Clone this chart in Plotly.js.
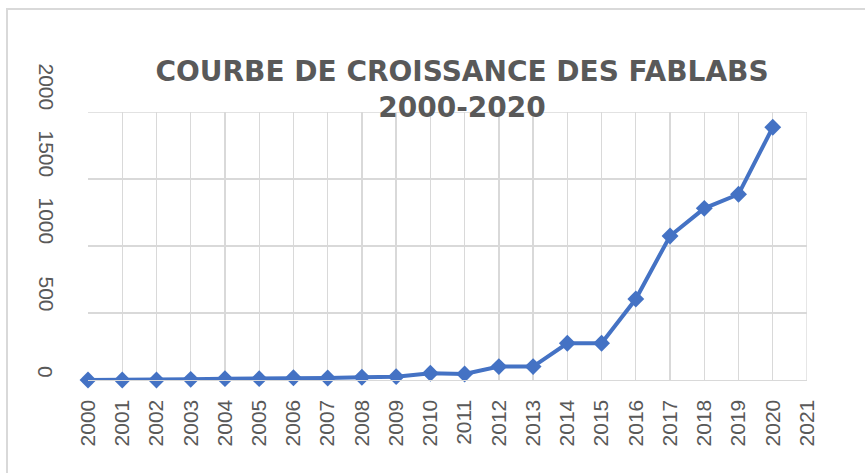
<!DOCTYPE html>
<html>
<head>
<meta charset="utf-8">
<script src="https://cdn.plot.ly/plotly-3.0.1.min.js"></script>
<style>
  html, body { margin: 0; padding: 0; background: #ffffff; overflow: hidden; }
  #frame { position: absolute; left: 6px; top: 8px; width: 900px; height: 500px; border: 2px solid #d9d9d9; box-sizing: border-box; }
  #chart { position: absolute; left: 0; top: 0; width: 865px; height: 473px; }
</style>
</head>
<body>
<div id="frame"></div>
<div id="chart"></div>
<script>
const years = [2000, 2001, 2002, 2003, 2004, 2005, 2006, 2007, 2008, 2009, 2010,
               2011, 2012, 2013, 2014, 2015, 2016, 2017, 2018, 2019, 2020];
const fablabs = [0, 0, 0, 5, 10, 10, 17, 15, 20, 25, 50,
                 45, 100, 100, 274, 274, 604, 1075, 1281, 1386, 1886];
const xTickVals = [2000, 2001, 2002, 2003, 2004, 2005, 2006, 2007, 2008, 2009, 2010,
                   2011, 2012, 2013, 2014, 2015, 2016, 2017, 2018, 2019, 2020, 2021];
const yTickVals = [0, 500, 1000, 1500, 2000];
const yTickText = ["0", "500", "1000", "1500", "2000"];
const titleText = "COURBE DE CROISSANCE DES FABLABS<br>2000-2020";

const labelFont = { family: "Liberation Sans, Arial, sans-serif", size: 21, color: "#595959" };

const trace = {
  x: years,
  y: fablabs,
  type: "scatter",
  mode: "lines+markers",
  line: { color: "#4472C4", width: 4 },
  marker: { symbol: "diamond", size: 13, color: "#4472C4" },
  cliponaxis: false,
  hoverinfo: "x+y"
};

const annotations = yTickVals.map((v, i) => ({
  xref: "paper", yref: "y",
  x: 0, y: v,
  xanchor: "center", yanchor: "bottom",
  xshift: -42, yshift: 0,
  text: yTickText[i],
  textangle: 90,
  showarrow: false,
  font: labelFont
}));

const layout = {
  width: 865, height: 473,
  paper_bgcolor: "rgba(0,0,0,0)",
  plot_bgcolor: "rgba(0,0,0,0)",
  margin: { l: 88, r: 58, t: 112, b: 93 },
  showlegend: false,
  title: {
    text: titleText,
    font: { family: "DejaVu Sans, sans-serif", size: 28, color: "#595959", weight: "bold" },
    x: 462 / 865, xanchor: "center",
    xref: "container",
    y: 1 - 81 / 473, yanchor: "top", yref: "container"
  },
  xaxis: {
    range: [2000, 2021],
    tickmode: "array",
    tickvals: xTickVals,
    ticktext: xTickVals.map(String),
    tickangle: -90,
    tickfont: labelFont,
    showgrid: true,
    gridcolor: "#d9d9d9",
    gridwidth: 1.3,
    showline: true,
    linecolor: "#d9d9d9",
    linewidth: 1.3,
    zeroline: false,
    ticks: "",
    ticklabelstandoff: 10,
    fixedrange: true
  },
  yaxis: {
    range: [0, 2000],
    tickmode: "array",
    tickvals: yTickVals,
    showticklabels: false,
    showgrid: true,
    gridcolor: "#d9d9d9",
    gridwidth: 1.3,
    zeroline: false,
    showline: false,
    ticks: "",
    fixedrange: true
  },
  shapes: [
    { type: "line", xref: "x", yref: "paper", x0: 2021, x1: 2021, y0: 0, y1: 1,
      line: { color: "#d9d9d9", width: 1.3 } },
    { type: "line", xref: "paper", yref: "y", x0: 0, x1: 1, y0: 2000, y1: 2000,
      line: { color: "#d9d9d9", width: 1.3 } }
  ],
  annotations: annotations
};

Plotly.newPlot("chart", [trace], layout, { displayModeBar: false, staticPlot: true });
</script>
</body>
</html>
